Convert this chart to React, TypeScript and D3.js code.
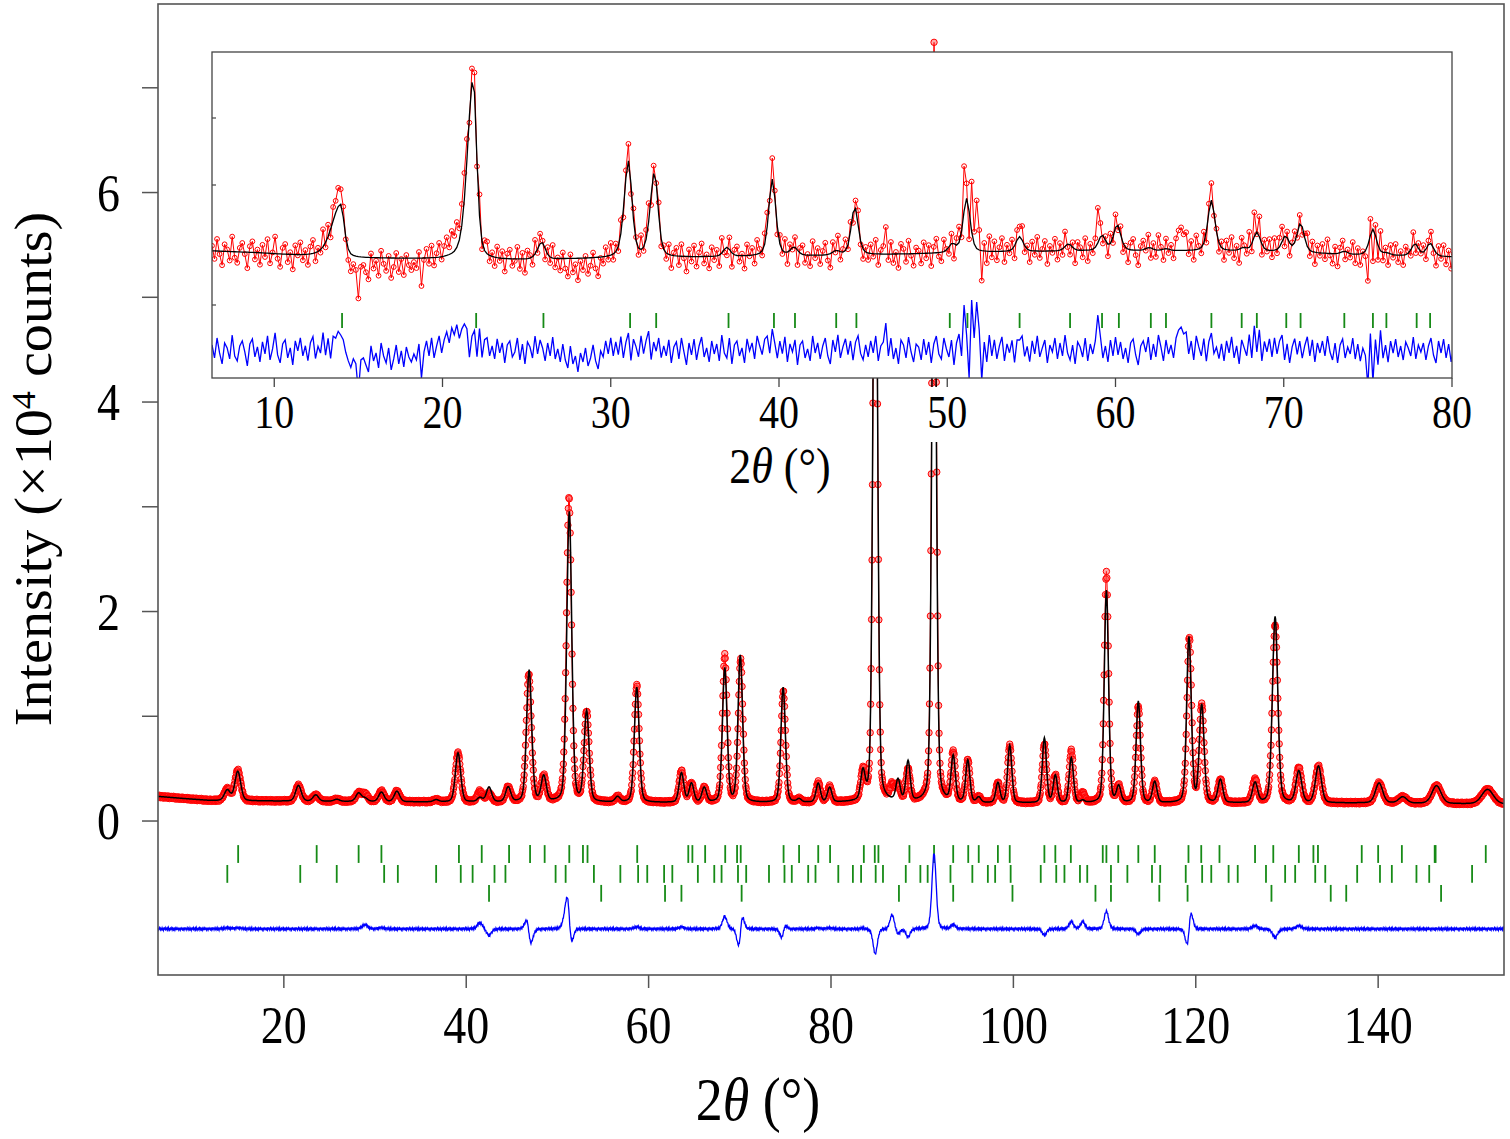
import React, { useMemo } from 'react';
import * as d3 from 'd3';

const WIDTH = 1510;
const HEIGHT = 1139;
const MAIN = { left: 158, right: 1504, top: 4, bottom: 975 };
const INSET = { left: 212, right: 1452, top: 52, bottom: 378 };
const FONT = '"Liberation Serif", "Times New Roman", serif';
const STRETCH = 1.15;
const TICK_GREEN = '#168a16';

// full pattern: 2θ range, step, intensity (×10⁴ counts)
const mainRange = [6.2, 153.8];
const mainStep = 0.05;
const mainIntensity = [-1.47, 7.8];
const MAIN_DIFF_OFFSET = -1.03;

// inset: low-angle pattern, arbitrary counts
const insetRange = [6.3, 80];
const insetStep = 0.15;
const insetIntensity = [-35, 291];
const INSET_DIFF_OFFSET = -7;

const mainXTicks = [20, 40, 60, 80, 100, 120, 140];
const mainYTicks = [0, 1, 2, 3, 4, 5, 6, 7];
const mainYLabels = [0, 2, 4, 6];
const insetXTicks = [10, 20, 30, 40, 50, 60, 70, 80];
const insetYTicks = [225, 158, 38];

// background knots [2θ, intensity]
const mainBackground = [
  [6.2, 0.235], [9, 0.215], [12, 0.195], [20, 0.19], [30, 0.185], [40, 0.18],
  [60, 0.175], [80, 0.175], [100, 0.17], [120, 0.17], [140, 0.172], [153.8, 0.16],
];

// [2θ, calc height, obs height, obs shift]
const mainReflections = [
  [13.8, 0.10, 0.11, 0], [14.95, 0.28, 0.29, 0], [21.6, 0.15, 0.15, 0],
  [23.5, 0.06, 0.06, 0], [25.8, 0.02, 0.02, 0], [28.2, 0.08, 0.08, 0],
  [28.9, 0.03, 0.07, 0], [30.7, 0.09, 0.10, 0], [32.4, 0.10, 0.10, 0],
  [36.7, 0.02, 0.02, 0], [39.1, 0.47, 0.47, 0], [41.5, 0.04, 0.10, 0],
  [42.5, 0.14, 0.08, 0], [44.6, 0.14, 0.14, 0], [46.9, 1.26, 1.22, -0.04],
  [48.5, 0.24, 0.24, 0], [50.8, 0.0, 0.06, 0], [51.3, 2.77, 2.89, -0.03],
  [53.2, 0.86, 0.86, 0], [56.6, 0.05, 0.05, 0], [58.7, 1.10, 1.12, 0],
  [63.6, 0.28, 0.30, 0], [64.7, 0.18, 0.18, 0], [66.1, 0.14, 0.14, 0],
  [68.35, 1.28, 1.40, 0], [70.05, 1.40, 1.36, 0.04], [74.75, 1.10, 1.06, 0.02],
  [76.5, 0.03, 0.03, 0], [78.6, 0.18, 0.19, 0], [79.85, 0.14, 0.15, 0],
  [83.5, 0.26, 0.27, 0], [84.85, 7.0, 6.76, 0], [86.7, 0.0, 0.14, 0],
  [87.35, 0.20, 0.15, 0], [88.45, 0.38, 0.30, 0], [91.3, 6.54, 7.26, 0],
  [93.4, 0.43, 0.47, 0], [95.0, 0.40, 0.40, 0], [96.2, 0.05, 0.05, 0],
  [98.3, 0.19, 0.19, 0], [99.6, 0.55, 0.55, 0], [103.4, 0.62, 0.56, 0],
  [104.6, 0.26, 0.26, 0], [106.35, 0.43, 0.50, 0], [107.6, 0.02, 0.09, 0],
  [110.2, 2.03, 2.20, 0], [111.55, 0.15, 0.15, 0], [113.7, 0.97, 0.92, 0],
  [115.5, 0.20, 0.20, 0], [119.25, 1.58, 1.58, 0.04], [120.65, 0.93, 0.93, 0],
  [122.7, 0.22, 0.22, 0], [126.5, 0.19, 0.22, 0], [128.7, 1.78, 1.70, 0],
  [131.3, 0.30, 0.33, 0], [133.45, 0.35, 0.35, 0], [140.1, 0.19, 0.19, 0],
  [142.7, 0.06, 0.06, 0], [146.4, 0.17, 0.17, 0], [152.0, 0.14, 0.14, 0],
];

// small counting scatter on the observed profile (×10⁻³)
const mainJitter = [
  6, -9, 3, 12, -4, -11, 8, 1, -7, 10, -5, 2, -13, 5, 9, -2, -8, 11, -1, 4,
  -10, 7, -6, 12, -3, -12, 3, 8, -6, 0, 10, -9, 5, -4, 13, -7, 2, -11, 8, -2,
  4, -12, 9, 0, -5, 11, -9, 3, 7, -11, 1, 9, -3, -7, 12, -5, 3, -10, 6, -1, 9,
];

// Bragg positions, three phases
const phase1Ticks = [
  14.99, 23.6, 28.2, 30.7, 39.2, 41.7, 44.7, 47.0, 48.6, 51.3, 52.8, 53.3, 58.75,
  64.35, 64.8, 66.2, 68.4, 69.7, 70.1, 74.8, 76.5, 78.6, 79.9, 83.6, 84.8, 85.2,
  88.6, 91.3, 93.4, 95.05, 96.2, 98.3, 99.6, 103.4, 104.6, 106.3, 109.8, 110.2,
  111.5, 113.7, 115.5, 119.2, 120.6, 122.6, 126.5, 128.5, 131.3, 132.9, 133.4,
  138.2, 140.0, 142.6, 146.2, 146.3, 151.8,
];
const phase2Ticks = [
  13.8, 21.8, 25.8, 31.0, 32.5, 36.7, 39.4, 40.7, 43.1, 44.3, 49.8, 50.9, 54.0,
  56.9, 58.85, 59.85, 61.7, 62.6, 65.4, 67.2, 68.0, 69.8, 70.7, 73.2, 74.9, 75.7,
  77.5, 78.3, 80.8, 82.4, 83.3, 84.9, 85.7, 88.2, 89.8, 90.6, 93.1, 95.5, 97.2,
  98.0, 99.7, 103.0, 104.7, 105.6, 107.3, 108.1, 110.7, 112.5, 115.2, 116.1,
  118.9, 120.7, 121.7, 123.6, 124.6, 127.7, 129.8, 130.9, 133.1, 134.2, 137.7,
  140.2, 141.5, 144.2, 145.6, 150.3,
];
const phase3Ticks = [
  42.5, 54.8, 61.8, 63.6, 70.2, 87.45, 93.4, 99.9, 109.0, 110.7, 116.0, 119.1,
  128.3, 134.8, 136.5, 146.9,
];

const insetBackground = [
  [6.3, 92], [9, 90], [11.5, 87], [15, 85], [18, 84], [20, 83], [25, 83], [28, 84],
  [32, 85], [36, 86], [42, 87], [48, 89], [53, 91], [58, 92], [64, 92], [70, 91],
  [74, 88], [80, 86],
];

// [2θ, calc height, obs height, low-angle asymmetry]
const insetReflections = [
  [13.95, 53, 60, 2.5], [21.82, 182, 188, 1.6], [25.9, 17, 17, 1.2],
  [31.05, 96, 98, 1.2], [32.6, 85, 87, 1.2], [36.9, 9, 9, 1], [39.6, 77, 82, 1],
  [40.9, 8, 8, 1], [43.4, 4, 4, 1], [44.5, 48, 50, 1], [50.3, 8, 8, 1],
  [51.15, 54, 54, 1], [54.3, 15, 19, 1], [57.2, 7, 7, 1], [59.2, 15, 15, 1],
  [60.1, 26, 26, 1], [62.0, 3, 3, 1], [63.0, 2, 2, 1], [65.7, 51, 53, 1],
  [67.6, 3, 3, 1], [68.4, 19, 22, 1], [70.1, 15, 15, 1], [71.0, 29, 30, 1],
  [73.6, 3, 3, 1], [75.3, 26, 24, 1], [76.1, 2, 2, 1], [77.8, 12, 12, 1],
  [78.7, 13, 13, 1],
];

// obs − model scatter of the inset scan, one value per step
const insetNoise = [
  5, -8, 12, -3, -14, 7, 2, -9, 15, -6, -11, 4, 9, -2, -16, 6, 11, -7, 3, -12,
  8, -4, 14, -10, 1, 17, -5, -13, 6, 10, -8, 2, -15, 9, -1, 12, -6, 4, -11, 7,
  13, -9, 3, -4, 16, -7, 9, -12, 9, 6, 12, 8, 5, -5, -12, -18, -9, -14, -42, -10,
  -8, -15, -22, 4, -11, -3, -18, 7, -6, -13, 2, -20, -9, 5, -14, -1, -17, 3, -7, -12,
  -4, -10, 6, -28, -2, 9, -6, 12, -8, 4, 14, -3, 10, 18, 7, 22, 15, 25, 11, 20,
  24, 18, -12, 8, 14, -10, 20, -8, 10, 12, -6, 4, -9, 11, -3, 7, -13, 5, 9, -7,
  -2, 12, -10, 6, -14, 8, 3, -8, 14, -4, 10, 2, -11, 7, -6, 13, -9, 1, -12, 6,
  -10, -18, 4, -14, -6, -22, -3, -12, 2, -16, -8, 5, -11, -19, -1, -7, 9, -4, 12, -6,
  8, -5, 13, -9, 6, 15, -12, 10, 3, -7, 14, -4, 9, 18, -11, 6, -3, 11, -8, 4,
  -6, 10, -13, 3, 8, -9, 12, -2, -15, 7, -5, 11, -10, 4, 13, -7, 2, -12, 9, -4,
  6, -11, 15, -3, -8, 12, -14, 5, 9, -6, 2, -13, 11, -1, 7, -9, 14, 4, -5, 10,
  12, -7, 16, 3, -10, 8, -4, 13, -12, 6, -2, 10, -15, 5, 9, -8, 1, -11, 14, -3,
  7, -9, 4, 12, -6, -14, 10, -2, 15, -8, 3, 11, -5, 8, -12, 6, 13, -4, -10, 5,
  -7, 9, -3, 14, -11, 4, 8, 27, -6, 12, -9, 2, -14, 10, 5, -8, 13, -2, -12, 6,
  3, -10, 11, -5, 8, -13, 6, 14, -4, -9, 12, 1, -7, 10, -15, 7, 16, -6, 45, 15,
  -28, 50, 12, 48, 20, -30, 8, -12, 15, -6, 10, -9, 4, 13, -11, 6, -3, 9, -14, 7,
  6, 11, -8, 3, -12, 9, -4, 14, -7, 2, 10, -13, 5, -2, 12, -9, 7, -6, 15, -3,
  -10, 5, -14, 8, 3, -7, 12, -11, 6, -4, 9, 35, 14, -8, 4, -12, 10, -6, 13, -5,
  8, -9, 2, -13, 7, 11, -5, -15, 4, 9, -2, 13, -10, 6, -7, 15, 3, -11, 10, -4,
  5, -8, 12, 20, 23, 16, 18, -4, 9, -10, 14, 3, -6, 11, -12, 7, 15, -5, 2, -9,
  6, -11, 9, -3, 13, -8, 4, -14, 10, 2, -6, 15, -9, 22, -5, 18, -12, 8, -2, 11,
  -7, 12, -4, 9, 15, -10, 6, -13, 3, 11, -5, 8, -9, 4, 13, -6, 10, -12, 7, -3,
  9, -6, 14, -2, -10, 7, -13, 5, 11, -8, 3, -4, 12, -9, 6, -11, 2, -5, -35, 18,
  -30, 12, -14, 20, -8, 5, -12, 9, -3, 11, -7, 4, -10, 8, 2, -6, 13, -9, 5, -2,
  7, -10, 4, 12, -5, -13, 9, -3, 11, -8, 6, -12, 3, 8, -7, 10, -4, 5, -9, 2,
];

const insetTicks = [
  14.03, 22.0, 26.0, 31.15, 32.7, 37.0, 39.7, 40.95, 43.4, 44.6, 50.15, 51.2,
  54.3, 57.3, 59.2, 60.2, 62.1, 63.0, 65.7, 67.5, 68.4, 70.15, 71.0, 73.6, 75.3,
  76.1, 77.9, 78.7,
];

// profile parameters (Caglioti width, pseudo-Voigt mixing)
const CAG = { U: 0.246, V: -0.586, W: 0.636 };
const MAIN_ETA = 0.25;
const INSET_FWHM = 0.5;
const INSET_ETA = 0.4;

type Pt = { x: number; obs: number; calc: number; diff: number };

const pseudoVoigt = (d: number, fwhm: number, eta: number) => {
  const z = (2 * d / fwhm) ** 2;
  return eta / (1 + z) + (1 - eta) * Math.exp(-Math.LN2 * z);
};

const caglioti = (tt: number) => {
  const t = Math.tan((tt / 2) * Math.PI / 180);
  return Math.sqrt(CAG.U * t * t + CAG.V * t + CAG.W);
};

function buildMain(): Pt[] {
  const bg = d3.scaleLinear().domain(mainBackground.map((d) => d[0]))
    .range(mainBackground.map((d) => d[1])).clamp(true);
  const n = Math.round((mainRange[1] - mainRange[0]) / mainStep) + 1;
  return d3.range(n).map((i) => {
    const x = mainRange[0] + i * mainStep;
    let calc = bg(x);
    let obs = bg(x);
    for (const [p, hc, ho, sh] of mainReflections) {
      const w = caglioti(p);
      const d = x - p;
      if (Math.abs(d) > 20 * w) continue;
      calc += hc * pseudoVoigt(d, w, MAIN_ETA);
      obs += ho * pseudoVoigt(d - sh, w, MAIN_ETA);
    }
    obs += mainJitter[i % mainJitter.length] / 1000;
    return { x, obs, calc, diff: obs - calc + MAIN_DIFF_OFFSET };
  });
}

function buildInset(): Pt[] {
  const bg = d3.scaleLinear().domain(insetBackground.map((d) => d[0]))
    .range(insetBackground.map((d) => d[1])).clamp(true);
  return insetNoise.map((noise, i) => {
    const x = insetRange[0] + i * insetStep;
    let calc = bg(x);
    let obs = bg(x);
    for (const [p, hc, ho, asym] of insetReflections) {
      const d = x - p;
      const w = d < 0 ? INSET_FWHM * asym : INSET_FWHM;
      if (Math.abs(d) > 25 * w) continue;
      const f = pseudoVoigt(d, w, INSET_ETA);
      calc += hc * f;
      obs += ho * f;
    }
    obs += noise;
    return { x, obs, calc, diff: obs - calc + INSET_DIFF_OFFSET };
  });
}

const StretchText = ({ x, y, size, anchor = 'middle', children }: any) => (
  <text
    transform={`translate(${x},${y}) scale(1,${STRETCH})`}
    fontFamily={FONT}
    fontSize={size}
    textAnchor={anchor}
    fill="#000"
  >
    {children}
  </text>
);

const App = () => {
  const x = d3.scaleLinear().domain(mainRange).range([MAIN.left, MAIN.right]);
  const y = d3.scaleLinear().domain(mainIntensity).range([MAIN.bottom, MAIN.top]);
  const ix = d3.scaleLinear().domain(insetRange).range([INSET.left, INSET.right]);
  const iy = d3.scaleLinear().domain(insetIntensity).range([INSET.bottom, INSET.top]);

  const main = useMemo(buildMain, []);
  const inset = useMemo(buildInset, []);

  const mainLine = (key: 'obs' | 'calc' | 'diff') =>
    d3.line<Pt>().x((d) => x(d.x)).y((d) => y(d[key]))(main) ?? '';
  const insetLine = (key: 'obs' | 'calc' | 'diff') =>
    d3.line<Pt>().x((d) => ix(d.x)).y((d) => iy(d[key]))(inset) ?? '';

  const phaseRows = [
    { ticks: phase1Ticks, lo: -0.40, hi: -0.23 },
    { ticks: phase2Ticks, lo: -0.59, hi: -0.42 },
    { ticks: phase3Ticks, lo: -0.77, hi: -0.61 },
  ];

  return (
    <svg
      width={WIDTH}
      height={HEIGHT}
      style={{ position: 'absolute', left: 0, top: 0, background: '#fff' }}
    >
      <defs>
        <clipPath id="mainClip">
          <rect x={MAIN.left} y={MAIN.top} width={MAIN.right - MAIN.left} height={MAIN.bottom - MAIN.top} />
        </clipPath>
        <clipPath id="insetClip">
          <rect x={INSET.left} y={INSET.top} width={INSET.right - INSET.left} height={INSET.bottom - INSET.top} />
        </clipPath>
      </defs>
      <rect width={WIDTH} height={HEIGHT} fill="#fff" />

      {/* full pattern */}
      <g clipPath="url(#mainClip)">
        {phaseRows.map((row, r) =>
          row.ticks.map((t, i) => (
            <line key={`p${r}-${i}`} x1={x(t)} x2={x(t)} y1={y(row.lo)} y2={y(row.hi)}
              stroke={TICK_GREEN} strokeWidth={1.8} />
          )),
        )}
        <path d={mainLine('diff')} fill="none" stroke="#0000ff" strokeWidth={1.3} />
        <path d={mainLine('obs')} fill="none" stroke="#ff0000" strokeWidth={1} />
        {main.map((d, i) => (
          <circle key={i} cx={x(d.x)} cy={y(d.obs)} r={3.2} fill="#ff4a4a" fillOpacity={0.45}
            stroke="#ff0000" strokeWidth={1} />
        ))}
        <path d={mainLine('calc')} fill="none" stroke="#000" strokeWidth={1.5} />
      </g>

      {/* low-angle inset */}
      <rect x={INSET.left} y={INSET.top} width={INSET.right - INSET.left} height={INSET.bottom - INSET.top} fill="#fff" />
      <g clipPath="url(#insetClip)">
        {insetTicks.map((t, i) => (
          <line key={`it${i}`} x1={ix(t)} x2={ix(t)} y1={iy(15)} y2={iy(30)} stroke={TICK_GREEN} strokeWidth={1.8} />
        ))}
        <path d={insetLine('diff')} fill="none" stroke="#0000ff" strokeWidth={1.3} />
        <path d={insetLine('obs')} fill="none" stroke="#ff0000" strokeWidth={1} />
        {inset.map((d, i) => (
          <circle key={i} cx={ix(d.x)} cy={iy(d.obs)} r={2.4} fill="none" stroke="#ff0000" strokeWidth={1} />
        ))}
        <path d={insetLine('calc')} fill="none" stroke="#000" strokeWidth={1.3} />
      </g>
      <rect x={INSET.left} y={INSET.top} width={INSET.right - INSET.left} height={INSET.bottom - INSET.top}
        fill="none" stroke="#444" strokeWidth={1.3} />
      {insetYTicks.map((t) => (
        <line key={`iy${t}`} x1={INSET.left} x2={INSET.left + 4} y1={iy(t)} y2={iy(t)} stroke="#444" strokeWidth={1.2} />
      ))}
      {insetXTicks.map((t) => (
        <g key={`ix${t}`}>
          <line x1={ix(t)} x2={ix(t)} y1={INSET.bottom} y2={INSET.bottom + 10} stroke="#444" strokeWidth={1.3} />
          <rect x={ix(t) - 24} y={387} width={48} height={55} fill="#fff" />
          <StretchText x={ix(t)} y={428} size={40}>{t}</StretchText>
        </g>
      ))}
      <StretchText x={780} y={483} size={44}>
        <tspan>2</tspan>
        <tspan fontStyle="italic">θ</tspan>
        <tspan> (°)</tspan>
      </StretchText>

      {/* main frame and axes */}
      <rect x={MAIN.left} y={MAIN.top} width={MAIN.right - MAIN.left} height={MAIN.bottom - MAIN.top}
        fill="none" stroke="#555" strokeWidth={1.6} />
      {mainXTicks.map((t) => (
        <g key={`x${t}`}>
          <line x1={x(t)} x2={x(t)} y1={MAIN.bottom} y2={MAIN.bottom + 13} stroke="#555" strokeWidth={1.5} />
          <StretchText x={x(t)} y={1043} size={46}>{t}</StretchText>
        </g>
      ))}
      {mainYTicks.map((t) => (
        <line key={`y${t}`} x1={MAIN.left - 16} x2={MAIN.left} y1={y(t)} y2={y(t)} stroke="#555" strokeWidth={1.5} />
      ))}
      {mainYLabels.map((t) => (
        <StretchText key={`yl${t}`} x={120} y={y(t) + 18} size={46} anchor="end">{t}</StretchText>
      ))}
      <StretchText x={758} y={1120} size={54}>
        <tspan>2</tspan>
        <tspan fontStyle="italic">θ</tspan>
        <tspan> (°)</tspan>
      </StretchText>
      <text transform="translate(51,469) rotate(-90) scale(1.06,1)" fontFamily={FONT} fontSize={53}
        textAnchor="middle" fill="#000">
        <tspan>Intensity (×10</tspan>
        <tspan fontSize={34} dy={-16}>4</tspan>
        <tspan dy={16}> counts)</tspan>
      </text>
    </svg>
  );
};

export default App;
